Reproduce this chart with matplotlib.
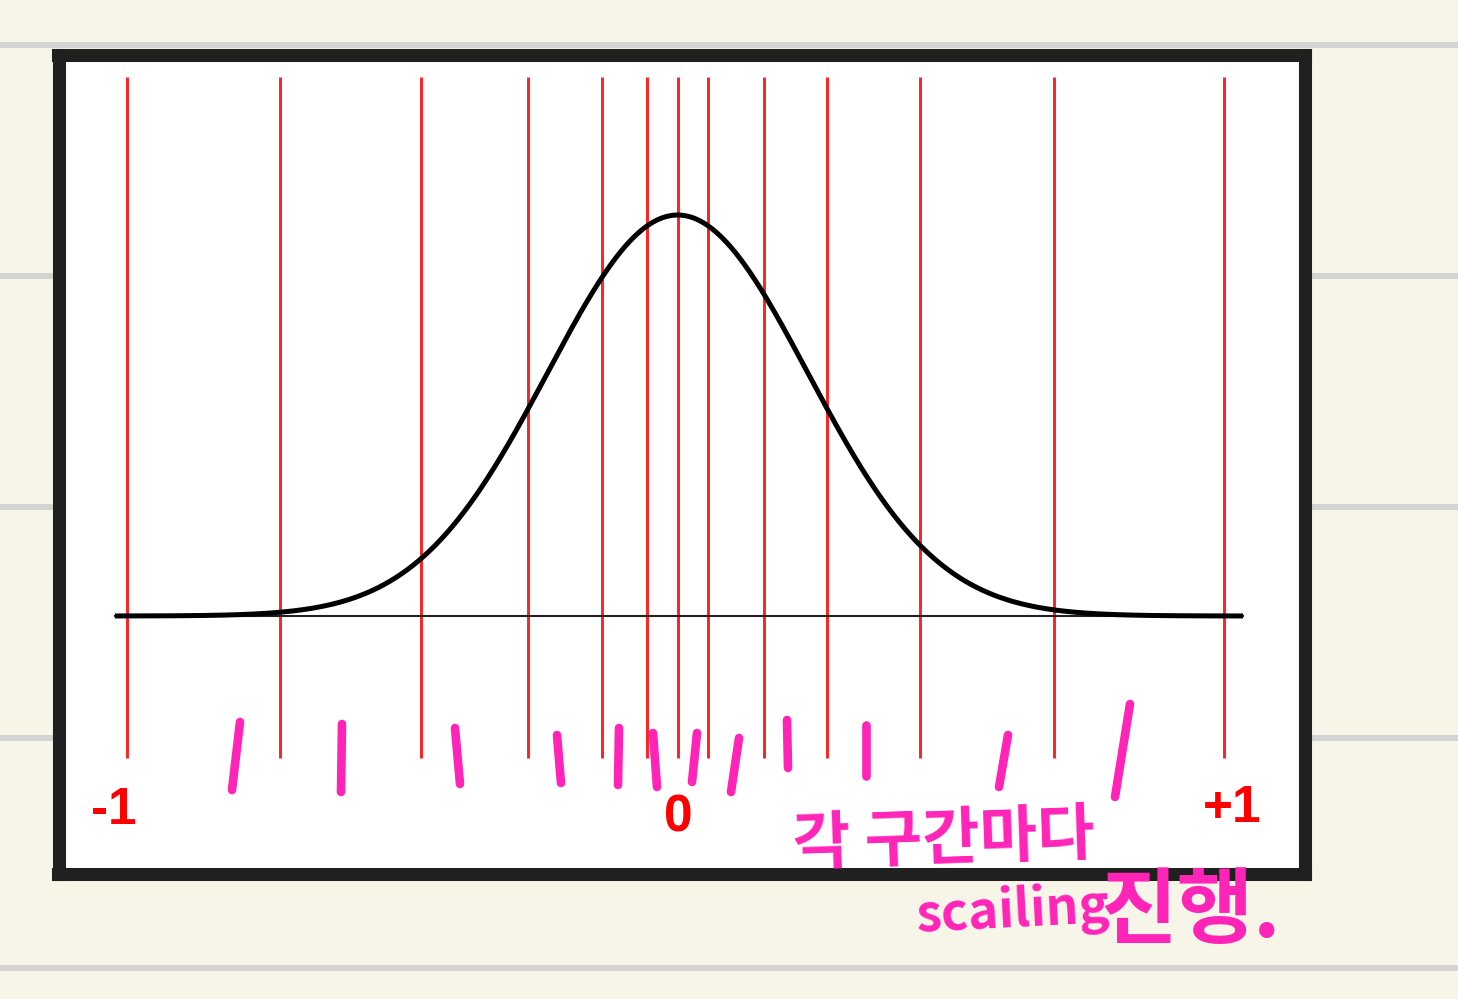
import numpy as np
import matplotlib
matplotlib.use("Agg")
import matplotlib.pyplot as plt

# red bin edges (data units, -1 .. +1)
edges = [-1.0, -0.721, -0.464, -0.270, -0.135, -0.053, 0.003, 0.058, 0.160, 0.275, 0.445, 0.689, 0.998]
edge_top, edge_bottom = 1.344, -0.354

# bell curve
mu, sigma = 0.003, 0.237
curve_left, curve_right = -1.022, 1.033

axis_labels = ["-1", "0", "+1"]
label_x = [-1.025, 0.004, 1.013]
label_y = [-0.484, -0.504, -0.479]

# ruled lines of the note page (page pixels)
rule_y = [45, 276, 507, 738, 968]

# handwritten tick strokes (page pixels): x top, y top, x bottom, y bottom
hand_x0 = [240, 342, 455, 557, 619, 653, 697, 739, 787, 866, 1008, 1130]
hand_y0 = [722, 724, 728, 735, 728, 733, 733, 738, 720, 725, 735, 704]
hand_x1 = [232, 341, 460, 561, 618, 657, 692, 731, 788, 866, 999, 1115]
hand_y1 = [790, 792, 784, 783, 785, 787, 782, 792, 768, 776, 787, 797]

pink = "#ff24b8"
red = "#ff2020"

fig = plt.figure(figsize=(14.58, 9.99), dpi=100)
fig.patch.set_facecolor("#f7f5e8")

# page background with ruled lines
bg = fig.add_axes([0, 0, 1, 1])
bg.set_xlim(0, 1458)
bg.set_ylim(999, 0)
bg.axis("off")
for y in rule_y:
    bg.axhline(y, color="#d3d3d1", lw=4.3)

# the chart box
W, H = 1458, 999
ax = fig.add_axes([58.5 / W, 1 - 874 / H, (1304.5 - 58.5) / W, (874 - 55) / H])
ax.set_facecolor("white")
ax.set_xlim(-1.1248, 1.1448)
ax.set_ylim(-0.6434, 1.399)
ax.set_xticks([])
ax.set_yticks([])
for s in ax.spines.values():
    s.set_linewidth(9.4)
    s.set_color("#202020")

ax.vlines(edges, edge_bottom, edge_top, color=red, lw=2.1, zorder=2)

xs = np.linspace(curve_left, curve_right, 600)
ys = np.exp(-(xs - mu) ** 2 / (2 * sigma ** 2))
ax.plot([curve_left, curve_right], [0, 0], color="#222222", lw=1.5, zorder=3)
ax.plot(xs, ys, color="black", lw=3.6, zorder=4, solid_capstyle="butt")

for t, x, y in zip(axis_labels, label_x, label_y):
    ax.text(x, y, t, color="#ff0000", fontsize=37, fontweight="heavy",
            family="Liberation Sans", ha="center", va="center")

# handwritten overlay
ov = fig.add_axes([0, 0, 1, 1], zorder=5)
ov.set_xlim(0, 1458)
ov.set_ylim(999, 0)
ov.axis("off")
for x0, y0, x1, y1 in zip(hand_x0, hand_y0, hand_x1, hand_y1):
    ov.plot([x0, x1], [y0, y1], color=pink, lw=6.2, solid_capstyle="round")

kfont = ["Noto Sans CJK KR", "DejaVu Sans"]
ov.text(792, 840, "각 구간마다", color=pink, fontsize=45, family=kfont,
        fontweight="bold", ha="left", va="center", rotation=2)
ov.text(915, 912, "scailing", color=pink, fontsize=37, family=kfont,
        fontweight="bold", ha="left", va="center", rotation=3)
ov.text(1100, 912, "진행.", color=pink, fontsize=60, family=kfont,
        fontweight="bold", ha="left", va="center")

fig.savefig("out.png", dpi=100, facecolor=fig.get_facecolor())
